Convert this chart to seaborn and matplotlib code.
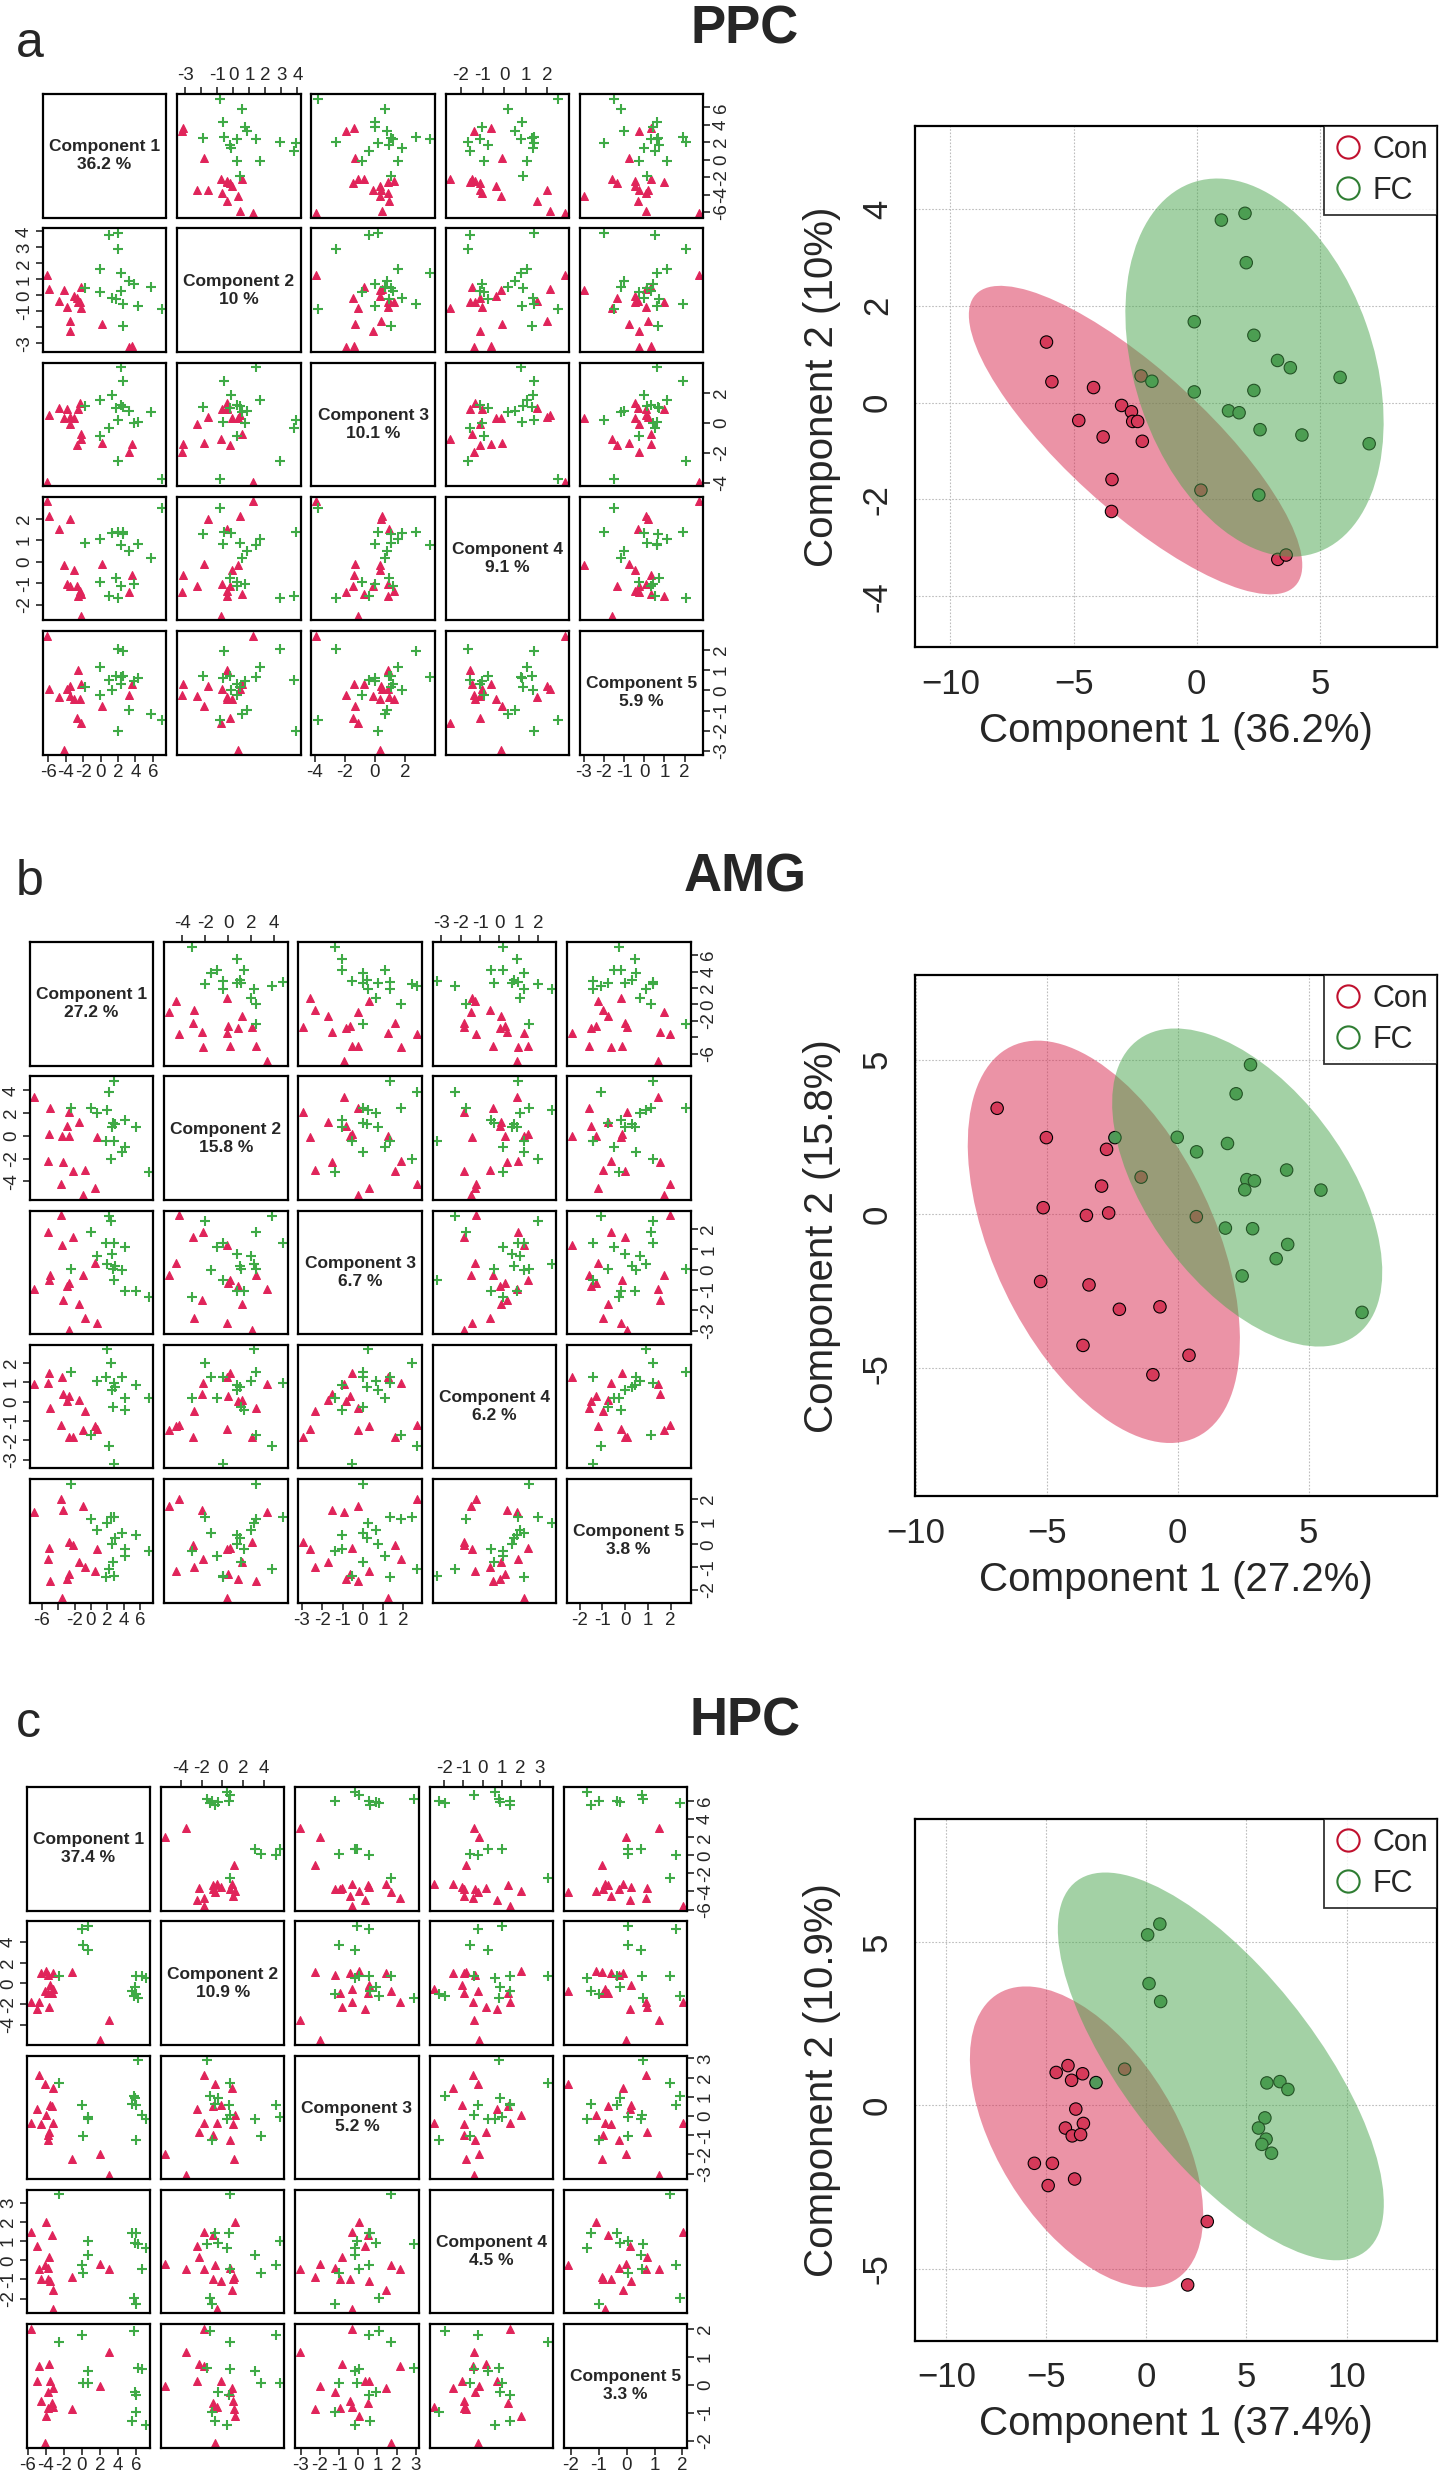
import numpy as np
import pandas as pd
import matplotlib
matplotlib.use("Agg")
import matplotlib.pyplot as plt
import seaborn as sns
from matplotlib.patches import Ellipse
from matplotlib.lines import Line2D

# PCA scores, one tuple per sample: (Comp1, Comp2, Comp3, Comp4, Comp5)
PPC_CON = [
    (-6.10, 1.25, -3.92, 2.79, 2.71), (-5.88, 0.43, 0.50, 2.11, 0.08),
    (-4.19, 0.31, 0.32, -0.17, -2.96), (-4.79, -0.37, 0.97, 1.50, -0.33),
    (-3.80, -0.71, 0.91, -1.05, 0.08), (-3.05, -0.06, 0.32, -0.36, -0.44),
    (-2.65, -0.19, -1.46, -1.13, -1.36), (-2.60, -0.39, 0.91, -1.60, 0.99),
    (-2.40, -0.39, 1.31, -1.36, -0.44), (-2.21, -0.80, -1.11, -2.50, -1.61),
    (-2.26, 0.55, -0.73, -1.50, 0.33), (-3.44, -1.59, 0.39, 2.00, 0.21),
    (-3.46, -2.25, -0.10, -1.10, -0.28), (0.17, -1.81, -1.33, -0.08, -0.77),
    (3.29, -3.24, -1.94, -1.40, -0.25), (3.63, -3.15, -1.40, -0.63, 0.33),
]
PPC_FC = [
    (-1.82, 0.44, 1.08, 0.88, 0.16), (1.00, 3.77, -0.37, -1.57, 0.54),
    (1.96, 3.91, 0.20, 1.40, -2.00), (2.01, 2.89, -2.56, -1.67, 2.05),
    (-0.10, 1.67, 1.53, 1.04, 1.15), (2.32, 1.39, 3.69, 0.78, 0.66),
    (3.28, 0.87, 0.79, 0.50, -0.99), (3.80, 0.72, 0.00, -1.05, 0.45),
    (5.82, 0.52, 0.68, 0.16, -1.15), (-0.10, 0.22, -0.86, -0.95, -0.25),
    (2.32, 0.25, 1.19, -1.10, 0.33), (1.29, -0.17, 1.84, 1.35, 0.00),
    (1.72, -0.21, 0.95, -0.76, 0.74), (2.57, -0.56, 2.76, 1.40, 1.94),
    (4.27, -0.67, 0.04, 0.81, 0.62), (7.00, -0.85, -3.75, 2.47, -1.48),
    (2.52, -1.91, 1.05, 1.30, 0.70),
]
AMG_CON = [
    (-6.90, 3.42, -0.95, 0.89, 1.42), (-5.02, 2.47, -0.26, -0.33, -1.61),
    (-2.72, 2.09, -2.95, -1.85, 0.09), (-1.40, 1.19, -1.70, 0.09, -0.77),
    (-2.91, 0.90, -0.82, 0.02, -1.51), (-5.14, 0.20, -0.52, 1.46, -0.15),
    (-3.49, -0.05, 1.24, 1.27, -2.36), (-2.64, 0.03, -0.65, 0.30, -1.30),
    (0.71, -0.09, -2.62, -1.41, -0.18), (-5.24, -2.19, 1.87, 0.94, -0.62),
    (-3.39, -2.30, -1.51, 0.37, 1.52), (-2.23, -3.09, 1.59, -1.85, -0.03),
    (-0.68, -3.01, -2.36, -0.51, -0.99), (-3.62, -4.26, 2.69, -1.20, 1.99),
    (0.43, -4.58, 0.33, -1.24, -1.18), (-0.95, -5.21, -0.26, -1.48, 1.71),
]
AMG_FC = [
    (-2.40, 2.47, 0.03, 1.52, 2.67), (-0.02, 2.48, 1.87, -1.71, 1.12),
    (0.72, 2.01, 0.66, 1.05, 0.63), (1.90, 2.28, 0.28, 2.69, 0.93),
    (2.23, 3.89, 2.65, -2.28, -1.06), (2.78, 4.83, 1.34, 0.97, 1.20),
    (4.16, 1.42, -1.03, -0.45, -0.18), (2.64, 1.11, 0.03, -0.28, -0.77),
    (2.93, 1.07, 0.20, 0.75, 0.30), (2.56, 0.78, 0.77, 0.62, 0.01),
    (5.47, 0.77, -1.03, 0.88, 0.41), (1.82, -0.46, 1.34, 1.28, -1.43),
    (2.86, -0.48, -0.51, -3.21, -1.40), (4.20, -0.99, 1.10, 0.20, -0.50),
    (3.76, -1.45, 0.00, 1.28, 0.49), (2.46, -2.01, 2.41, 1.97, 1.23),
    (7.04, -3.19, -1.36, 0.19, -0.28),
]
HPC_CON = [
    (-4.51, 1.01, -0.44, -0.97, -0.57), (-3.92, 1.22, 0.05, 1.99, -1.11),
    (-3.19, 0.97, 1.46, -1.53, -0.12), (-3.74, 0.77, -1.23, -0.39, -0.26),
    (-1.09, 1.11, -2.24, -0.88, -0.87), (-3.53, -0.11, 0.58, -1.09, 0.14),
    (-4.05, -0.69, 1.68, -0.26, -2.09), (-3.15, -0.55, -0.35, -2.54, -0.78),
    (-3.71, -0.93, -0.97, -0.97, -0.84), (-3.29, -0.89, 0.53, 1.34, -0.66),
    (-5.60, -1.77, -0.35, 1.46, 2.01), (-4.70, -1.77, 2.15, -0.48, 0.68),
    (-4.91, -2.45, 0.35, 0.76, 0.12), (-3.59, -2.25, -0.83, 0.19, 0.74),
    (3.04, -3.55, -3.05, -0.44, 1.16), (2.06, -5.49, -1.99, -0.18, -0.04),
]
HPC_FC = [
    (0.06, 5.22, 0.56, -0.25, 1.77), (0.67, 5.55, -0.05, 1.02, 0.05),
    (0.13, 3.73, -1.02, -0.65, 0.05), (0.71, 3.18, -0.15, 0.28, 0.50),
    (-2.52, 0.70, 1.73, 3.45, 1.55), (6.02, 0.69, 0.58, 1.42, -0.36),
    (6.67, 0.73, 0.05, -0.44, 0.56), (7.07, 0.49, -0.17, 0.67, -1.43),
    (5.92, -0.38, 0.94, 0.89, -0.24), (5.60, -0.69, 0.62, 1.42, -1.29),
    (5.98, -1.03, -1.23, -2.30, -0.98), (5.77, -1.19, 1.06, -1.99, 1.93),
    (6.25, -1.46, 2.91, 0.85, 0.60),
]

# explained variance (%) per component
PPC_VAR = [36.2, 10, 10.1, 9.1, 5.9]
AMG_VAR = [27.2, 15.8, 6.7, 6.2, 3.8]
HPC_VAR = [37.4, 10.9, 5.2, 4.5, 3.3]

# pairs-matrix axis ticks per component, and labels left out (overlap)
PPC_TICKS = [[-6, -4, -2, 0, 2, 4, 6], [-3, -2, -1, 0, 1, 2, 3, 4], [-4, -2, 0, 2],
             [-2, -1, 0, 1, 2], [-3, -2, -1, 0, 1, 2]]
PPC_HIDE = [[], [-2], [], [], []]
AMG_TICKS = [[-6, -4, -2, 0, 2, 4, 6], [-4, -2, 0, 2, 4], [-3, -2, -1, 0, 1, 2],
             [-3, -2, -1, 0, 1, 2], [-2, -1, 0, 1, 2]]
AMG_HIDE = [[-4], [], [], [], []]
HPC_TICKS = [[-6, -4, -2, 0, 2, 4, 6], [-4, -2, 0, 2, 4], [-3, -2, -1, 0, 1, 2, 3],
             [-2, -1, 0, 1, 2, 3], [-2, -1, 0, 1, 2]]
HPC_HIDE = [[], [], [], [], []]

# score-plot ticks
PPC_XT, PPC_YT = [-10, -5, 0, 5], [-4, -2, 0, 2, 4]
AMG_XT, AMG_YT = [-10, -5, 0, 5], [-5, 0, 5]
HPC_XT, HPC_YT = [-10, -5, 0, 5, 10], [-5, 0, 5]

GROUPS = ["Con", "FC"]

TRI_RED = "#E0245A"
CROSS_GREEN = "#3FAA46"
PT_RED = "#D63A5A"
PT_GREEN = "#52985A"
ELL_RED = "#D8284F"
ELL_GREEN = "#48A54C"
LEG_RED = "#C0102E"
LEG_GREEN = "#2E7D32"

sns.set_style("white")
plt.rcParams["font.family"] = ["Liberation Sans", "DejaVu Sans"]

W, H = 1440, 2472
fig = plt.figure(figsize=(W / 100, H / 100), dpi=100)


def box(x0, y0, x1, y1):
    return [x0 / W, 1 - y1 / H, (x1 - x0) / W, (y1 - y0) / H]


def make_df(con, fc):
    cols = ["C1", "C2", "C3", "C4", "C5"]
    a = pd.DataFrame(con, columns=cols)
    a["group"] = "Con"
    b = pd.DataFrame(fc, columns=cols)
    b["group"] = "FC"
    return pd.concat([a, b], ignore_index=True)


def draw_pairs(df, var, ticks, hide, x0, y0, step, size):
    cols = ["C1", "C2", "C3", "C4", "C5"]
    lims = []
    for c in cols:
        lo, hi = df[c].min(), df[c].max()
        pad = 0.04 * (hi - lo)
        lims.append((lo - pad, hi + pad))
    con = df[df.group == "Con"]
    fc = df[df.group == "FC"]
    for i in range(5):
        for j in range(5):
            ax = fig.add_axes(box(x0 + j * step, y0 + i * step,
                                  x0 + j * step + size, y0 + i * step + size))
            ax.set_xlim(lims[j])
            ax.set_ylim(lims[i])
            for s in ax.spines.values():
                s.set_linewidth(1.6)
                s.set_color("black")
            ax.set_xticks([])
            ax.set_yticks([])
            if i == j:
                ax.text(0.5, 0.5, "Component %d\n%s %%" % (i + 1, var[i]),
                        transform=ax.transAxes, ha="center", va="center",
                        fontsize=12.5, fontweight="bold", linespacing=1.25)
            else:
                sns.scatterplot(x=con[cols[j]], y=con[cols[i]], marker="^",
                                color=TRI_RED, edgecolor=TRI_RED, s=32,
                                linewidth=0.8, legend=False, ax=ax)
                sns.scatterplot(x=fc[cols[j]], y=fc[cols[i]], marker="+",
                                color=CROSS_GREEN, s=46, linewidth=1.5,
                                legend=False, ax=ax)
            ax.set_xlabel("")
            ax.set_ylabel("")
            labels_x = [("" if t in hide[j] else str(t)) for t in ticks[j]]
            labels_y = [("" if t in hide[i] else str(t)) for t in ticks[i]]
            if i == 0 and j in (1, 3):
                ax.set_xticks(ticks[j])
                ax.set_xticklabels(labels_x)
                ax.xaxis.set_ticks_position("top")
            if i == 4 and j in (0, 2, 4):
                ax.set_xticks(ticks[j])
                ax.set_xticklabels(labels_x)
                ax.xaxis.set_ticks_position("bottom")
            if j == 0 and i in (1, 3):
                ax.set_yticks(ticks[i])
                ax.set_yticklabels(labels_y, rotation=90, va="center")
                ax.yaxis.set_ticks_position("left")
            if j == 4 and i in (0, 2, 4):
                ax.set_yticks(ticks[i])
                ax.set_yticklabels(labels_y, rotation=90, va="center")
                ax.yaxis.set_ticks_position("right")
            ax.tick_params(length=5, width=1.2, pad=2, labelsize=13.5,
                           direction="out")
            ax.set_xlim(lims[j])
            ax.set_ylim(lims[i])


def add_ellipse(ax, pts, color, z):
    pts = np.asarray(pts)
    mu = pts.mean(axis=0)
    cov = np.cov(pts, rowvar=False)
    vals, vecs = np.linalg.eigh(cov)
    order = vals.argsort()[::-1]
    vals, vecs = vals[order], vecs[:, order]
    angle = np.degrees(np.arctan2(vecs[1, 0], vecs[0, 0]))
    k = np.sqrt(5.991)  # 95% level, 2 df
    ax.add_patch(Ellipse(mu, 2 * k * np.sqrt(vals[0]), 2 * k * np.sqrt(vals[1]),
                         angle=angle, facecolor=color, edgecolor="none",
                         alpha=0.5, zorder=z))


def draw_scores(df, var, xt, yt, xlim, ylim, rect):
    ax = fig.add_axes(box(*rect))
    # red ellipse under the points, green one laid over them
    add_ellipse(ax, df[df.group == "Con"][["C1", "C2"]].values, ELL_RED, 2)
    sns.scatterplot(data=df, x="C1", y="C2", hue="group",
                    palette={"Con": PT_RED, "FC": PT_GREEN}, s=80,
                    edgecolor="black", linewidth=0.8, legend=False,
                    zorder=3, ax=ax)
    add_ellipse(ax, df[df.group == "FC"][["C1", "C2"]].values, ELL_GREEN, 4)
    ax.set_xlim(xlim)
    ax.set_ylim(ylim)
    ax.set_xticks(xt)
    ax.set_yticks(yt)
    ax.set_yticklabels([str(t) for t in yt], rotation=90, va="center")
    ax.grid(True, linestyle=(0, (1.5, 1.5)), color="#BDBDBD", linewidth=0.8)
    ax.set_axisbelow(True)
    for s in ax.spines.values():
        s.set_linewidth(1.6)
        s.set_color("black")
    ax.tick_params(length=5, width=1.2, labelsize=25, direction="out", pad=10)
    ax.set_xlabel("Component 1 (%s%%)" % var[0], fontsize=29, labelpad=8)
    ax.set_ylabel("Component 2 (%s%%)" % var[1], fontsize=29, labelpad=14)
    handles = [Line2D([], [], marker="o", linestyle="none", markersize=16,
                      markerfacecolor="none", markeredgecolor=c, markeredgewidth=1.5)
               for c in (LEG_RED, LEG_GREEN)]
    leg = ax.legend(handles, GROUPS, loc="upper right", borderaxespad=0,
                    fontsize=22, frameon=True, fancybox=False, handletextpad=0.3,
                    borderpad=0.3, labelspacing=0.35, handlelength=1.0)
    leg.set_zorder(10)
    leg.get_frame().set_edgecolor("black")
    leg.get_frame().set_linewidth(1.3)


regions = [
    (PPC_CON, PPC_FC, PPC_VAR, PPC_TICKS, PPC_HIDE, PPC_XT, PPC_YT, "PPC", "a",
     42.7, 94, (-11.45, 9.77), (-5.05, 5.72), (914.7, 125.7, 1437.4, 647), 57, 44),
    (AMG_CON, AMG_FC, AMG_VAR, AMG_TICKS, AMG_HIDE, AMG_XT, AMG_YT, "AMG", "b",
     29.8, 942, (-10.05, 9.92), (-9.15, 7.74), (914.7, 974.9, 1437.4, 1496.4), 895, 891),
    (HPC_CON, HPC_FC, HPC_VAR, HPC_TICKS, HPC_HIDE, HPC_XT, HPC_YT, "HPC", "c",
     26.6, 1787, (-11.58, 14.54), (-7.19, 8.77), (914.7, 1818.8, 1437.4, 2340.5), 1737, 1736),
]

for (con, fc, var, ticks, hide, xt, yt, name, letter, px, py, xlim, ylim, rect,
     ly, ty) in regions:
    df = make_df(con, fc)
    draw_pairs(df, var, ticks, hide, px, py, 134.3, 123.5)
    draw_scores(df, var, xt, yt, xlim, ylim, rect)
    fig.text(16 / W, 1 - ly / H, letter, fontsize=36, ha="left", va="baseline")
    fig.text(745 / W, 1 - ty / H, name, fontsize=38, fontweight="bold",
             ha="center", va="baseline")

fig.savefig("out.png", dpi=100)
